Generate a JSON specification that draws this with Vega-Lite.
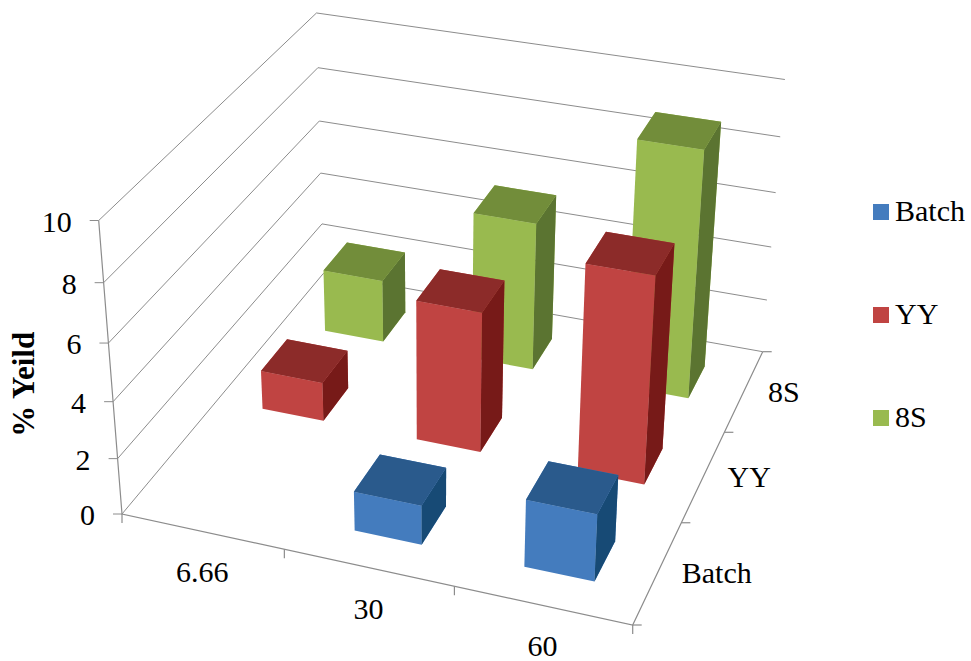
{
  "$schema": "https://vega.github.io/schema/vega-lite/v6.json",
  "width": 971,
  "height": 661,
  "padding": 0,
  "autosize": {"type": "none"},
  "background": "white",
  "config": {"view": {"stroke": null}},
  "projection": {"type": "identity", "scale": 1, "translate": [0, 0]},
  "datasets": {
    "bars": [
      {"dose": "30", "series": "Batch", "value": 1.40},
      {"dose": "60", "series": "Batch", "value": 2.36},
      {"dose": "6.66", "series": "YY", "value": 1.43},
      {"dose": "30", "series": "YY", "value": 5.05},
      {"dose": "60", "series": "YY", "value": 7.34},
      {"dose": "6.66", "series": "8S", "value": 2.35},
      {"dose": "30", "series": "8S", "value": 5.47},
      {"dose": "60", "series": "8S", "value": 8.98}
    ],
    "yTicks": [{"tick": 0}, {"tick": 2}, {"tick": 4}, {"tick": 6}, {"tick": 8}, {"tick": 10}],
    "doses": [{"dose": "6.66"}, {"dose": "30"}, {"dose": "60"}],
    "seriesNames": [{"series": "Batch"}, {"series": "YY"}, {"series": "8S"}],
    "edgeTicks": [
      {"axis": "dose", "step": 0}, {"axis": "dose", "step": 1}, {"axis": "dose", "step": 2}, {"axis": "dose", "step": 3},
      {"axis": "series", "step": 0}, {"axis": "series", "step": 1}, {"axis": "series", "step": 2}, {"axis": "series", "step": 3}
    ]
  },
  "data": {"name": "bars"},
  "transform": [
    {"calculate": "(indexof(['6.66','30','60'],datum.dose)+0.5)/3", "as": "u"},
    {"calculate": "(indexof(['Batch','YY','8S'],datum.series)+0.5)/3", "as": "v"},
    {"calculate": "datum.u-0.0667", "as": "u0"},
    {"calculate": "datum.u+0.0667", "as": "u1"},
    {"calculate": "datum.v-0.0667", "as": "v0"},
    {"calculate": "datum.v+0.0667", "as": "v1"},
    {"calculate": "datum.value/10", "as": "w"},
    {"calculate": "[(467.78*datum.u0+260.25*datum.v0+122)/(1-0.06784*datum.u0+0.18234*datum.v0),(68.6*datum.u0-190.63*datum.v0+514)/(1-0.06784*datum.u0+0.18234*datum.v0)]", "as": "fb0"},
    {"calculate": "[(467.78*datum.u1+260.25*datum.v0+122)/(1-0.06784*datum.u1+0.18234*datum.v0),(68.6*datum.u1-190.63*datum.v0+514)/(1-0.06784*datum.u1+0.18234*datum.v0)]", "as": "fb1"},
    {"calculate": "[(467.78*datum.u1+260.25*datum.v1+122)/(1-0.06784*datum.u1+0.18234*datum.v1),(68.6*datum.u1-190.63*datum.v1+514)/(1-0.06784*datum.u1+0.18234*datum.v1)]", "as": "bb1"},
    {"calculate": "[(467.78*datum.u0+260.25*datum.v0-30.21*datum.w+122)/(1-0.06784*datum.u0+0.18234*datum.v0-0.07*datum.w),(68.6*datum.u0-190.63*datum.v0-308.93*datum.w+514)/(1-0.06784*datum.u0+0.18234*datum.v0-0.07*datum.w)]", "as": "ft0"},
    {"calculate": "[(467.78*datum.u1+260.25*datum.v0-30.21*datum.w+122)/(1-0.06784*datum.u1+0.18234*datum.v0-0.07*datum.w),(68.6*datum.u1-190.63*datum.v0-308.93*datum.w+514)/(1-0.06784*datum.u1+0.18234*datum.v0-0.07*datum.w)]", "as": "ft1"},
    {"calculate": "[(467.78*datum.u1+260.25*datum.v1-30.21*datum.w+122)/(1-0.06784*datum.u1+0.18234*datum.v1-0.07*datum.w),(68.6*datum.u1-190.63*datum.v1-308.93*datum.w+514)/(1-0.06784*datum.u1+0.18234*datum.v1-0.07*datum.w)]", "as": "bt1"},
    {"calculate": "[(467.78*datum.u0+260.25*datum.v1-30.21*datum.w+122)/(1-0.06784*datum.u0+0.18234*datum.v1-0.07*datum.w),(68.6*datum.u0-190.63*datum.v1-308.93*datum.w+514)/(1-0.06784*datum.u0+0.18234*datum.v1-0.07*datum.w)]", "as": "bt0"},
    {"calculate": "[{type:'Feature',properties:{},geometry:{type:'Polygon',coordinates:[[datum.fb0,datum.fb1,datum.ft1,datum.ft0,datum.fb0]]}},{type:'Feature',properties:{},geometry:{type:'Polygon',coordinates:[[datum.fb1,datum.bb1,datum.bt1,datum.ft1,datum.fb1]]}},{type:'Feature',properties:{},geometry:{type:'Polygon',coordinates:[[datum.ft0,datum.ft1,datum.bt1,datum.bt0,datum.ft0]]}}]", "as": "faces"},
    {"calculate": "['front','side','top']", "as": "faceNames"},
    {"flatten": ["faces", "faceNames"], "as": ["geo", "face"]},
    {"calculate": "datum.series+' '+datum.face", "as": "shadeKey"}
  ],
  "layer": [
    {
      "description": "Wall gridlines with their short ticks on the value axis",
      "data": {"name": "yTicks"},
      "transform": [
        {"calculate": "datum.tick/10", "as": "w"},
        {"calculate": "[(122-30.21*datum.w)/(1-0.07*datum.w),(514-308.93*datum.w)/(1-0.07*datum.w)]", "as": "p0"},
        {"calculate": "[(382.25-30.21*datum.w)/(1.18234-0.07*datum.w),(323.37-308.93*datum.w)/(1.18234-0.07*datum.w)]", "as": "p1"},
        {"calculate": "[(850.03-30.21*datum.w)/(1.1145-0.07*datum.w),(391.97-308.93*datum.w)/(1.1145-0.07*datum.w)]", "as": "p2"},
        {"calculate": "{type:'Feature',properties:{},geometry:{type:'LineString',coordinates:[[datum.p0[0]-9,datum.p0[1]],datum.p0,datum.p1,datum.p2]}}", "as": "geo"}
      ],
      "mark": {"type": "geoshape", "filled": false, "stroke": "#8c8c8c", "strokeWidth": 1},
      "encoding": {"shape": {"field": "geo", "type": "geojson"}}
    },
    {
      "description": "Value axis line and the two floor edges",
      "data": {"values": [{"edge": "frame"}]},
      "transform": [
        {"calculate": "{type:'Feature',properties:{},geometry:{type:'LineString',coordinates:[[(122-30.21)/(1-0.07),(514-308.93)/(1-0.07)],[122,514],[(467.78+122)/(1-0.06784),(68.6+514)/(1-0.06784)],[850.03/1.1145,391.97/1.1145]]}}", "as": "geo"}
      ],
      "mark": {"type": "geoshape", "filled": false, "stroke": "#8c8c8c", "strokeWidth": 1.2},
      "encoding": {"shape": {"field": "geo", "type": "geojson"}}
    },
    {
      "description": "Ticks along the two floor edges",
      "data": {"name": "edgeTicks"},
      "transform": [
        {"calculate": "datum.axis==='dose'?datum.step/3:1", "as": "u"},
        {"calculate": "datum.axis==='dose'?0:datum.step/3", "as": "v"},
        {"calculate": "[(467.78*datum.u+260.25*datum.v+122)/(1-0.06784*datum.u+0.18234*datum.v),(68.6*datum.u-190.63*datum.v+514)/(1-0.06784*datum.u+0.18234*datum.v)]", "as": "p"},
        {"calculate": "{type:'Feature',properties:{},geometry:{type:'LineString',coordinates:[datum.p,datum.axis==='dose'?[datum.p[0],datum.p[1]+9]:[datum.p[0]+9,datum.p[1]]]}}", "as": "geo"}
      ],
      "mark": {"type": "geoshape", "filled": false, "stroke": "#8c8c8c", "strokeWidth": 1.2},
      "encoding": {"shape": {"field": "geo", "type": "geojson"}}
    },
    {
      "description": "Value axis labels",
      "data": {"name": "yTicks"},
      "transform": [
        {"calculate": "datum.tick/10", "as": "w"},
        {"calculate": "(122-30.21*datum.w)/(1-0.07*datum.w)", "as": "px"},
        {"calculate": "(514-308.93*datum.w)/(1-0.07*datum.w)", "as": "py"}
      ],
      "mark": {"type": "text", "align": "right", "baseline": "middle", "dx": -27, "dy": 2, "font": "Liberation Serif", "fontSize": 30, "fill": "#000000"},
      "encoding": {
        "longitude": {"field": "px", "type": "quantitative"},
        "latitude": {"field": "py", "type": "quantitative"},
        "text": {"field": "tick", "type": "nominal"}
      }
    },
    {
      "description": "Dose labels under the front edge",
      "data": {"name": "doses"},
      "transform": [
        {"calculate": "(indexof(['6.66','30','60'],datum.dose)+0.5)/3", "as": "u"},
        {"calculate": "(467.78*datum.u+122)/(1-0.06784*datum.u)", "as": "px"},
        {"calculate": "(68.6*datum.u+514)/(1-0.06784*datum.u)", "as": "py"}
      ],
      "mark": {"type": "text", "align": "center", "baseline": "middle", "dy": 42, "font": "Liberation Serif", "fontSize": 30, "fill": "#000000"},
      "encoding": {
        "longitude": {"field": "px", "type": "quantitative"},
        "latitude": {"field": "py", "type": "quantitative"},
        "text": {"field": "dose", "type": "nominal"}
      }
    },
    {
      "description": "Series labels beside the right floor edge",
      "data": {"name": "seriesNames"},
      "transform": [
        {"calculate": "(indexof(['Batch','YY','8S'],datum.series)+0.5)/3", "as": "v"},
        {"calculate": "(467.78+260.25*datum.v+122)/(1-0.06784+0.18234*datum.v)", "as": "px"},
        {"calculate": "(68.6-190.63*datum.v+514)/(1-0.06784+0.18234*datum.v)", "as": "py"}
      ],
      "mark": {"type": "text", "align": "left", "baseline": "middle", "dx": 24, "dy": 2, "font": "Liberation Serif", "fontSize": 30, "fill": "#000000"},
      "encoding": {
        "longitude": {"field": "px", "type": "quantitative"},
        "latitude": {"field": "py", "type": "quantitative"},
        "text": {"field": "series", "type": "nominal"}
      }
    },
    {
      "description": "Value axis title",
      "data": {"values": [{"title": "% Yeild", "level": 0.46}]},
      "transform": [
        {"calculate": "(122-30.21*datum.level)/(1-0.07*datum.level)", "as": "px"},
        {"calculate": "(514-308.93*datum.level)/(1-0.07*datum.level)", "as": "py"}
      ],
      "mark": {"type": "text", "align": "center", "baseline": "middle", "angle": 270, "dy": -87, "font": "Liberation Serif", "fontWeight": "bold", "fontSize": 31, "fill": "#000000"},
      "encoding": {
        "longitude": {"field": "px", "type": "quantitative"},
        "latitude": {"field": "py", "type": "quantitative"},
        "text": {"field": "title", "type": "nominal"}
      }
    },
    {
      "description": "8S bars, furthest row",
      "transform": [{"filter": "datum.series==='8S'"}],
      "layer": [
        {
          "mark": {"type": "geoshape"},
          "encoding": {
            "shape": {"field": "geo", "type": "geojson"},
            "color": {
              "field": "series",
              "type": "nominal",
              "scale": {"domain": ["Batch", "YY", "8S"], "range": ["#447CBE", "#C04442", "#99BA4F"]},
              "legend": {"orient": "none", "legendX": 866, "legendY": 197, "title": null, "symbolType": "square", "symbolSize": 256, "symbolStrokeWidth": 0, "labelFont": "Liberation Serif", "labelFontSize": 30, "labelColor": "#000000", "labelOffset": -1, "rowPadding": 73}
            }
          }
        },
        {
          "transform": [{"filter": "datum.face!=='front'"}],
          "mark": {"type": "geoshape"},
          "encoding": {
            "shape": {"field": "geo", "type": "geojson"},
            "fill": {
              "field": "shadeKey",
              "type": "nominal",
              "legend": null,
              "scale": {
                "domain": ["Batch top", "Batch side", "YY top", "YY side", "8S top", "8S side"],
                "range": ["#2A5A8C", "#174A75", "#8C2B29", "#771A18", "#728D3A", "#5B7431"]
              }
            }
          }
        }
      ]
    },
    {
      "description": "YY bars, middle row",
      "transform": [{"filter": "datum.series==='YY'"}],
      "layer": [
        {
          "mark": {"type": "geoshape"},
          "encoding": {
            "shape": {"field": "geo", "type": "geojson"},
            "color": {"field": "series", "type": "nominal"}
          }
        },
        {
          "transform": [{"filter": "datum.face!=='front'"}],
          "mark": {"type": "geoshape"},
          "encoding": {
            "shape": {"field": "geo", "type": "geojson"},
            "fill": {"field": "shadeKey", "type": "nominal", "legend": null}
          }
        }
      ]
    },
    {
      "description": "Batch bars, front row",
      "transform": [{"filter": "datum.series==='Batch'"}],
      "layer": [
        {
          "mark": {"type": "geoshape"},
          "encoding": {
            "shape": {"field": "geo", "type": "geojson"},
            "color": {"field": "series", "type": "nominal"}
          }
        },
        {
          "transform": [{"filter": "datum.face!=='front'"}],
          "mark": {"type": "geoshape"},
          "encoding": {
            "shape": {"field": "geo", "type": "geojson"},
            "fill": {"field": "shadeKey", "type": "nominal", "legend": null}
          }
        }
      ]
    }
  ]
}
